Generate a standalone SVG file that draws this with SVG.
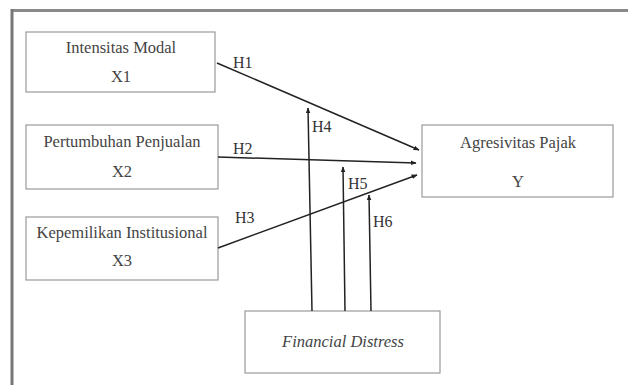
<svg xmlns="http://www.w3.org/2000/svg" width="628" height="385" viewBox="0 0 628 385">
<defs>
<marker id="ah" viewBox="0 0 10 10" refX="9" refY="5" markerWidth="6" markerHeight="6" orient="auto" markerUnits="userSpaceOnUse">
<path d="M0,1 L10,5 L0,9 z" fill="#222"/>
</marker>
</defs>
<style>
.box{fill:#fff;stroke:#9a9a9a;stroke-width:1.2}
.t{font-size:16.5px;fill:#444;text-anchor:middle}
.lb{font-size:16px;fill:#333}
.c{stroke:#222;stroke-width:1.5;fill:none;marker-end:url(#ah)}
</style>
<rect width="628" height="385" fill="#fff"/>
<line x1="11" y1="10.5" x2="628" y2="10.5" stroke="#8a8a8a" stroke-width="3"/>
<line x1="12" y1="9" x2="12" y2="385" stroke="#777" stroke-width="3"/>
<g font-family="Liberation Serif, DejaVu Serif, serif">
<g id="x1"><rect class="box" x="26" y="32" width="189" height="60"/><text class="t" x="121" y="53">Intensitas Modal</text><text class="t" x="121" y="82">X1</text></g>
<g id="x2"><rect class="box" x="26" y="125" width="192" height="64"/><text class="t" x="122" y="147">Pertumbuhan Penjualan</text><text class="t" x="122" y="177">X2</text></g>
<g id="x3"><rect class="box" x="26" y="217" width="192" height="63"/><text class="t" x="122" y="238">Kepemilikan Institusional</text><text class="t" x="122" y="266">X3</text></g>
<g id="y"><rect class="box" x="422" y="125" width="191" height="72"/><text class="t" x="518" y="148">Agresivitas Pajak</text><text class="t" x="518" y="187">Y</text></g>
<g id="fd"><rect class="box" x="245" y="311" width="195" height="62"/><text class="t" x="343" y="347" font-style="italic">Financial Distress</text></g>
<g id="connectors">
<line class="c" x1="217" y1="63" x2="419" y2="150"/>
<line class="c" x1="218" y1="157" x2="416" y2="163"/>
<line class="c" x1="218" y1="248" x2="417" y2="175"/>
<line class="c" x1="312" y1="311" x2="308" y2="108"/>
<line class="c" x1="345" y1="311" x2="343" y2="167"/>
<line class="c" x1="371" y1="311" x2="369" y2="195"/>
<text class="lb" x="233" y="68">H1</text>
<text class="lb" x="233" y="154">H2</text>
<text class="lb" x="235" y="223">H3</text>
<text class="lb" x="312" y="132">H4</text>
<text class="lb" x="348" y="189">H5</text>
<text class="lb" x="373" y="227">H6</text>
</g>
</g>
</svg>
